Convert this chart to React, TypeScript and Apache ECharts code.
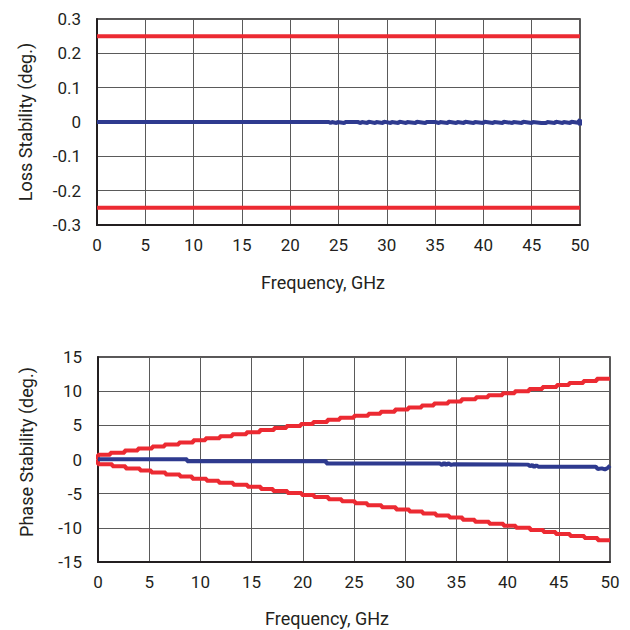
import React, { useEffect, useRef } from "react";
import * as echarts from "echarts";

// ---- Data ----
const freqTicks = [0, 5, 10, 15, 20, 25, 30, 35, 40, 45, 50];

// Loss stability (top chart)
const lossLimitUpper = [[0, 0.25], [50, 0.25]];
const lossLimitLower = [[0, -0.25], [50, -0.25]];
const lossFreq = [0, 24, 24.2, 24.3, 24.8, 24.9, 25.6, 25.7, 27, 27.3, 27.4, 28, 28.1, 28.8, 28.9, 29.6, 29.7, 30.4, 30.5, 31.2, 31.3, 32, 32.1, 33, 33.1, 34, 34.1, 35, 35.4, 35.5, 36.3, 36.4, 37.2, 37.3, 38, 38.1, 39, 39.1, 40, 40.1, 41, 41.1, 42, 42.1, 43, 43.1, 44, 44.1, 45, 45.1, 46, 46.5, 46.6, 47.4, 47.5, 48.2, 48.3, 49, 49.1, 49.8, 50, 50];
const lossValue = [0, 0, -0.003, 0, -0.003, 0, -0.003, 0, 0, -0.003, 0, -0.003, 0.001, -0.003, 0, -0.003, 0.001, -0.003, 0, -0.003, 0.001, -0.003, 0, -0.003, 0.001, -0.003, 0, 0, -0.003, 0, -0.003, 0.001, -0.003, 0, -0.003, 0.001, -0.003, 0, -0.003, 0.001, -0.003, 0, -0.003, 0.001, -0.003, 0, -0.003, 0.001, -0.003, 0, -0.003, -0.003, 0, -0.003, 0.001, -0.003, 0, -0.003, 0.001, -0.002, 0.007, -0.01];

// Phase stability (bottom chart)
const phaseUpperFreq = [0, 0, 1.2, 2.6, 3.9, 5.3, 6.5, 7.9, 9.3, 10.5, 11.9, 13.1, 14.5, 15.8, 17.2, 18.4, 19.8, 21.0, 22.4, 23.6, 25.0, 26.4, 27.6, 29.0, 30.3, 31.6, 32.8, 34.2, 35.5, 36.9, 38.1, 39.5, 40.7, 42.1, 43.4, 44.8, 46.0, 47.4, 48.7, 50];
const phaseUpperValue = [0, 0.7, 1.0, 1.3, 1.6, 1.9, 2.2, 2.5, 2.8, 3.1, 3.4, 3.7, 4.0, 4.3, 4.6, 4.9, 5.2, 5.5, 5.8, 6.1, 6.4, 6.7, 7.0, 7.3, 7.6, 7.9, 8.2, 8.5, 8.8, 9.1, 9.4, 9.7, 10.0, 10.3, 10.6, 10.9, 11.2, 11.5, 11.8, 11.8];
const phaseLowerFreq = [0, 0, 1.4, 2.7, 4.1, 5.2, 6.6, 8.0, 9.2, 10.6, 11.8, 13.2, 14.6, 15.9, 17.1, 18.5, 19.9, 21.1, 22.5, 23.8, 25.1, 26.3, 27.7, 29.1, 30.4, 31.7, 33.0, 34.3, 35.6, 36.8, 38.2, 39.6, 40.8, 42.2, 43.5, 44.7, 46.1, 47.5, 48.8, 50];
const phaseLowerValue = [0, -0.7, -1.0, -1.3, -1.6, -1.9, -2.2, -2.5, -2.8, -3.1, -3.4, -3.7, -4.0, -4.3, -4.6, -4.9, -5.2, -5.5, -5.8, -6.1, -6.4, -6.7, -7.0, -7.3, -7.6, -7.9, -8.2, -8.5, -8.8, -9.1, -9.4, -9.7, -10.0, -10.3, -10.6, -10.9, -11.2, -11.5, -11.8, -11.8];
const phaseFreq = [0, 8.7, 8.7, 22.3, 22.3, 33.4, 33.6, 33.8, 34.0, 34.2, 34.5, 34.7, 42.0, 42.2, 42.4, 42.6, 42.8, 43.0, 48.6, 48.8, 49.2, 49.5, 49.8, 50];
const phaseValue = [0.05, 0.05, -0.25, -0.25, -0.6, -0.6, -0.8, -0.5, -0.8, -0.55, -0.8, -0.7, -0.75, -1.0, -0.8, -1.1, -0.85, -1.05, -1.05, -1.4, -1.3, -1.45, -1.2, -0.9];

const RED = "#ec2a32";
const BLUE = "#2e3a8f";
const INK = "#231f20";
const GRID = "#5a5a5a";
const FONT = "Roboto";

const zip = (xs: number[], ys: number[]) => xs.map((x, i) => [x, ys[i]]);

export default function App() {
  const ref = useRef<HTMLDivElement>(null);
  useEffect(() => {
    if (!ref.current) return;
    const chart = echarts.init(ref.current, undefined, { renderer: "svg" });

    const xAxisBase = (gridIndex: number) => ({
      type: "value" as const,
      gridIndex,
      min: freqTicks[0],
      max: freqTicks[freqTicks.length - 1],
      interval: freqTicks[1] - freqTicks[0],
      axisLine: { show: true, onZero: false, lineStyle: { color: INK, width: 2 } },
      axisTick: { show: false },
      splitLine: { show: true, lineStyle: { color: GRID, width: 1 } },
      axisLabel: { color: INK, fontSize: 17, fontFamily: FONT, margin: 11 },
    });
    const yAxisBase = (gridIndex: number) => ({
      type: "value" as const,
      gridIndex,
      axisLine: { show: true, onZero: false, lineStyle: { color: INK, width: 2 } },
      axisTick: { show: false },
      splitLine: { show: true, lineStyle: { color: GRID, width: 1 } },
      axisLabel: { color: INK, fontSize: 17, fontFamily: FONT, margin: 16 },
    });

    const lineSeries = (name: string, data: number[][], color: string, xi: number, step?: any) => ({
      type: "line" as const,
      name,
      xAxisIndex: xi,
      yAxisIndex: xi,
      data,
      step: step || false,
      symbol: "none",
      lineStyle: { color, width: 4 },
      itemStyle: { color },
      silent: true,
    });

    const nameStyle = { fill: INK, fontSize: 18, fontFamily: FONT, align: "center", verticalAlign: "middle" };

    chart.setOption({
      animation: false,
      backgroundColor: "#ffffff",
      grid: [
        { left: 97, top: 19, width: 483, height: 206, show: true, borderColor: INK, borderWidth: 1.5 },
        { left: 98, top: 357, width: 512, height: 205, show: true, borderColor: INK, borderWidth: 1.5 },
      ],
      xAxis: [xAxisBase(0), xAxisBase(1)],
      yAxis: [
        {
          ...yAxisBase(0),
          min: -0.3,
          max: 0.3,
          interval: 0.1,
          axisLabel: {
            ...yAxisBase(0).axisLabel,
            formatter: (v: number) => String(Number(v.toFixed(1))),
          },
        },
        { ...yAxisBase(1), min: -15, max: 15, interval: 5 },
      ],
      series: [
        lineSeries("Loss upper limit", lossLimitUpper, RED, 0),
        lineSeries("Loss lower limit", lossLimitLower, RED, 0),
        lineSeries("Loss stability", zip(lossFreq, lossValue), BLUE, 0),
        lineSeries("Phase upper limit", zip(phaseUpperFreq, phaseUpperValue), RED, 1, "end"),
        lineSeries("Phase lower limit", zip(phaseLowerFreq, phaseLowerValue), RED, 1, "end"),
        lineSeries("Phase stability", zip(phaseFreq, phaseValue), BLUE, 1),
      ],
      graphic: [
        { type: "text", x: 25, y: 122, rotation: Math.PI / 2, style: { ...nameStyle, text: "Loss Stability (deg.)" } },
        { type: "text", x: 323, y: 282, style: { ...nameStyle, text: "Frequency, GHz" } },
        { type: "text", x: 26, y: 452, rotation: Math.PI / 2, style: { ...nameStyle, text: "Phase Stability (deg.)" } },
        { type: "text", x: 327, y: 618, style: { ...nameStyle, text: "Frequency, GHz" } },
      ],
    });
    return () => chart.dispose();
  }, []);

  return <div ref={ref} style={{ position: "fixed", left: 0, top: 0, width: 630, height: 630 }} />;
}
